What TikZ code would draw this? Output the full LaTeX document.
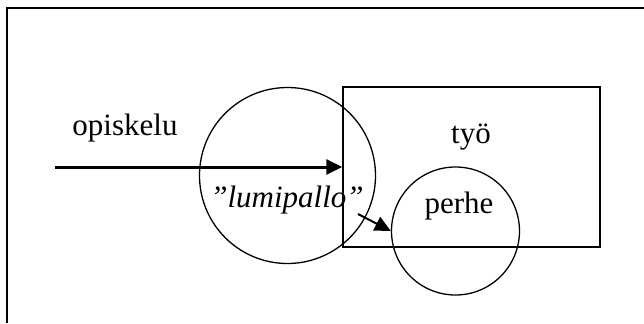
\documentclass[tikz,border=0pt]{standalone}
\usepackage{fontspec}
\setmainfont{Liberation Serif}
\usetikzlibrary{arrows.meta}
\tikzset{
    teksti/.style={inner sep=0pt, anchor=base, font=\fontsize{15.5}{18}\selectfont},
    pallo/.style={draw, circle, line width=0.65pt, inner sep=0pt},
    nuoli/.style={-{Triangle[length=8pt, width=7.5pt]}}
}
\begin{document}
\begin{tikzpicture}[x=0.5pt, y=-0.5pt]
        \useasboundingbox (0,0) rectangle (644,323);
        \draw[line width=1pt] (644,8) -- (7,8) -- (7,323);

        \node[draw, rectangle, line width=0.75pt, minimum width=128.5pt, minimum height=80pt, inner sep=0pt] (tyo) at (471.5,167) {};
        \node[pallo, minimum size=88pt] (lumipallo) at (287.5,175.5) {};
        \node[pallo, minimum size=64pt] (perhe) at (455.5,231) {};

        \node[teksti] (opiskeluteksti) at (125,135) {opiskelu};
        \node[teksti] (tyoteksti) at (471,143) {työ};
        \node[teksti] (perheteksti) at (459,213) {perhe};
        \node[teksti, font=\fontsize{15.5}{18}\selectfont\itshape] (lumipalloteksti) at (287,207) {”lumipallo”};

        \coordinate (alku) at (55,167);
        \coordinate (pieni) at (358,214);
        \draw[nuoli, line width=1.5pt] (alku) -- (tyo.west);
        \draw[nuoli, line width=1pt] (pieni) -- (perhe.west);
\end{tikzpicture}
\end{document}
